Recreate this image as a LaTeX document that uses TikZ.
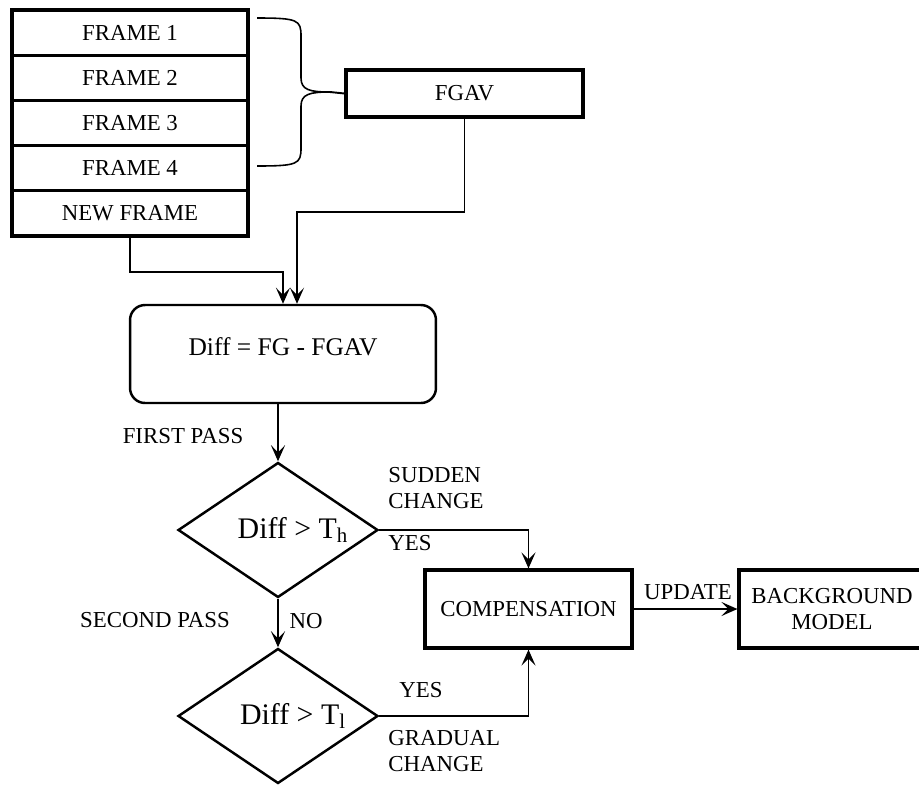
\documentclass[tikz,border=0pt]{standalone}
\usepackage{fontspec}
\setmainfont{Liberation Serif}
\usepackage{tikz}
\usetikzlibrary{positioning,shapes.geometric,arrows.meta}

\begin{document}
\begin{tikzpicture}[x=0.02cm,y=-0.02cm,
  frame/.style={draw,line width=1.8pt,minimum width=4.72cm,minimum height=0.904cm,inner sep=0pt,align=center,font=\fontsize{13}{15}\selectfont},
  box/.style={draw,line width=1.8pt,inner sep=0pt,align=center,font=\fontsize{13}{15}\selectfont},
  decision/.style={draw,diamond,line width=1.4pt,aspect=1.48,minimum width=4cm,minimum height=2.7cm,inner sep=0pt,font=\fontsize{17}{19}\selectfont},
  lbl/.style={inner sep=0pt,align=left,font=\fontsize{13}{15}\selectfont},
  arrow/.style={-{Stealth[length=3.2mm,width=2.8mm,inset=1.4mm]},line width=1.1pt},
  thick arrow/.style={arrow,line width=1.6pt},
  brace/.style={line width=0.9pt}
]
\clip (0,0) rectangle (919,785);
% frame stack
\node[frame] (f1) at (130,32.6) {FRAME 1};
\node[frame] (f2) at (130,77.8) {FRAME 2};
\node[frame] (f3) at (130,123) {FRAME 3};
\node[frame] (f4) at (130,168.2) {FRAME 4};
\node[frame] (nf) at (130,213.4) {NEW FRAME};
\node[box,minimum width=4.74cm,minimum height=0.94cm] (fgav) at (464.5,93.5) {FGAV};

% brace
\coordinate (tip) at (330,92);
\draw[brace] (257,18) .. controls (298,18) and (301,20) .. (301,36) -- (301,78)
  .. controls (301,90) and (310,92) .. (tip)
  .. controls (310,92) and (301,94) .. (301,106) -- (301,148)
  .. controls (301,164) and (298,166) .. (257,166);
\draw[line width=1.1pt] (tip) -- (fgav.west);

\node[box,rounded corners=0.3cm,line width=1.4pt,minimum width=6.12cm,minimum height=1.96cm,font=\fontsize{14.5}{16}\selectfont] (diff) at (283,354) {\raisebox{0.28cm}{Diff = FG - FGAV}};
\node[decision] (d1) at (278,530) {\hspace{0.6cm}Diff > T\textsubscript{h}};
\node[decision] (d2) at (278,716) {\hspace{0.6cm}Diff > T\textsubscript{l}};
\node[box,minimum width=4.14cm,minimum height=1.56cm] (comp) at (528.5,609) {COMPENSATION};
\node[box,minimum width=3.72cm,minimum height=1.56cm] (bg) at (832,609) {BACKGROUND\\MODEL};

\draw[arrow] (nf.south) -- ++(0,34) -| (diff.north);
\draw[arrow] (fgav.south) -- ++(0,93) -| ([xshift=0.28cm]diff.north);
\draw[thick arrow] (d1.north |- diff.south) -- (d1.north);
\draw[thick arrow] (d1.south) -- (d2.north);
\draw[arrow] (d1.east) -| (comp.north);
\draw[arrow] (d2.east) -| (comp.south);
\draw[thick arrow] (comp.east) -- (bg.west);

% labels
\node[lbl] (first) at (183,436) {FIRST PASS};
\node[lbl] (second) at (155,620) {SECOND PASS};
\node[lbl] (no) at (306,621) {NO};
\node[lbl,anchor=west] (sudden) at (388,488) {SUDDEN\\CHANGE};
\node[lbl,anchor=west] (yes1) at (388,543) {YES};
\node[lbl,anchor=west] (yes2) at (399,690) {YES};
\node[lbl,anchor=west] (gradual) at (388,751) {GRADUAL\\CHANGE};
\node[lbl] (update) at (688,592) {UPDATE};
\end{tikzpicture}
\end{document}
